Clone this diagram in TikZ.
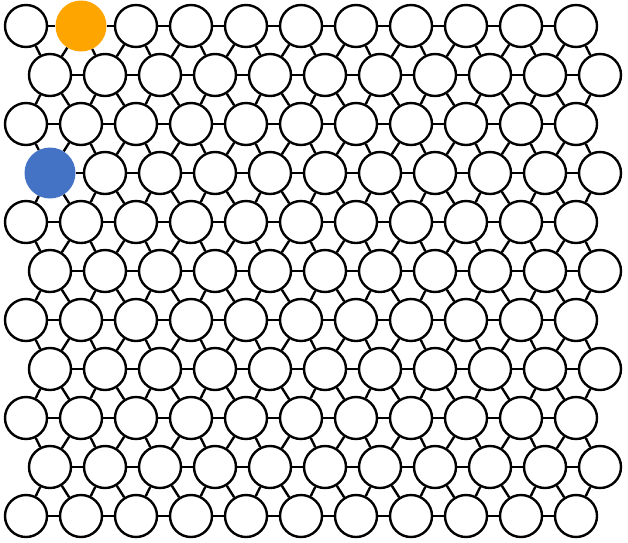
\documentclass[tikz,border=0pt]{standalone}
\usepackage{xcolor}
\usepackage{tikz}
\definecolor{sitegold}{HTML}{FFA500}
\definecolor{siteblue}{HTML}{4472C4}

\begin{document}
\begin{tikzpicture}[x=1pt, y=-1pt,
  ball/.style={circle, draw, line width=2.4pt, fill=white, minimum size=42pt, inner sep=0pt},
  goldball/.style={circle, fill=sitegold, minimum size=51pt, inner sep=0pt},
  blueball/.style={circle, fill=siteblue, minimum size=51pt, inner sep=0pt},
  bond/.style={line width=2.4pt}]
\useasboundingbox (0,0) rectangle (628,542);
% lattice sites: 11 rows of 11, odd rows shifted right
\foreach \r in {0,...,10} {
  \foreach \c in {0,...,10} {
    \pgfmathsetmacro{\sx}{26+55*\c+24*mod(\r,2)}
    \def\kind{ball}
    \ifnum\r=0 \ifnum\c=1 \def\kind{goldball}\fi\fi
    \ifnum\r=3 \ifnum\c=0 \def\kind{blueball}\fi\fi
    \node[\kind] (s-\r-\c) at (\sx,26+49*\r) {};
  }
}
% bonds within a row
\foreach \r in {0,...,10}
  \foreach \c in {0,...,9} {
    \pgfmathtruncatemacro{\n}{\c+1}
    \draw[bond] (s-\r-\c) -- (s-\r-\n);
  }
% bonds to the row below
\foreach \r in {0,...,9}
  \foreach \c in {0,...,10} {
    \pgfmathtruncatemacro{\d}{\r+1}
    \pgfmathtruncatemacro{\p}{mod(\r,2)}
    \draw[bond] (s-\r-\c) -- (s-\d-\c);
    \ifnum\p=0
      \ifnum\c>0 \pgfmathtruncatemacro{\m}{\c-1}\draw[bond] (s-\r-\c) -- (s-\d-\m);\fi
    \else
      \ifnum\c<10 \pgfmathtruncatemacro{\m}{\c+1}\draw[bond] (s-\r-\c) -- (s-\d-\m);\fi
    \fi
  }
\end{tikzpicture}
\end{document}
